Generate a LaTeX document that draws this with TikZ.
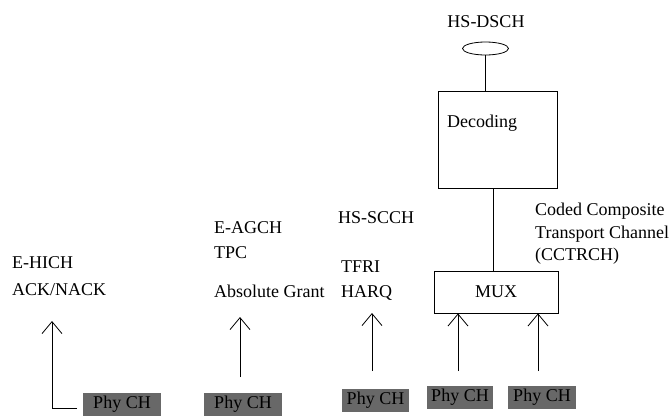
\documentclass[tikz,border=0pt]{standalone}
\usepackage{fontspec}
\newcommand\tmsfont{\fontspec{Liberation Serif}\fontsize{18}{20}\selectfont}
\usetikzlibrary{arrows.meta,shapes.geometric}
\definecolor{phygray}{RGB}{104,104,104}
\tikzset{
  lbl/.style={anchor=base west, inner sep=0pt, font=\tmsfont},
  phy/.style={fill=phygray, inner sep=0pt, minimum height=23, text=black, font=\tmsfont},
  box/.style={draw, line width=0.8pt, inner sep=0pt},
  ln/.style={line width=0.8pt},
  arr/.style={line width=0.8pt, -{Straight Barb[length=12pt,width=20pt,line width=0.8pt]}}
}
\begin{document}
\begin{tikzpicture}[x=1pt,y=-1pt]
\useasboundingbox (0,0) rectangle (669,416);
% top part
\node[lbl, anchor=base] (hsdsch) at (486,27) {HS-DSCH};
\node[draw, ellipse, line width=0.8pt, minimum width=46, minimum height=13, inner sep=0pt] (ell) at (485.5,48.5) {};
\node[box, minimum width=119, minimum height=97] (dec) at (497.5,139.5) {};
\node[lbl] (dectxt) at (447,127) {Decoding};
\node[box, minimum width=124, minimum height=42] (mux) at (496,292) {};
\node[lbl, anchor=base] (muxtxt) at (496,297) {MUX};
\draw[ln] (ell.south) -- (ell.south |- dec.north);
\draw[ln] (493,188) -- (493,271);
% labels
\node[lbl] (cc1) at (535,215) {Coded Composite};
\node[lbl] (cc2) at (535,238) {Transport Channel};
\node[lbl] (cc3) at (535,260) {(CCTRCH)};
\node[lbl] (hich1) at (12,268) {E-HICH};
\node[lbl] (hich2) at (12,295) {ACK/NACK};
\node[lbl] (agch1) at (214,233) {E-AGCH};
\node[lbl] (agch2) at (214,258) {TPC};
\node[lbl] (agch3) at (214,297) {Absolute Grant};
\node[lbl] (scch1) at (338,223) {HS-SCCH};
\node[lbl] (scch2) at (341,272) {TFRI};
\node[lbl] (scch3) at (341,297) {HARQ};
% Phy CH boxes
\node[phy, minimum width=78] (pa) at (122,404.5) {Phy CH};
\node[phy, minimum width=78] (pb) at (243,404.5) {Phy CH};
\node[phy, minimum width=67] (pc) at (375.5,400) {Phy CH};
\node[phy, minimum width=66] (pd) at (460,397.5) {Phy CH};
\node[phy, minimum width=68] (pe) at (542,397.5) {Phy CH};
% arrows
\coordinate (a0) at (77,408);
\coordinate (a1) at (52,321);
\draw[arr] (a0) -| (a1);
\coordinate (b0) at (240,377);
\coordinate (b1) at (240,317);
\draw[arr] (b0) -- (b1);
\coordinate (c0) at (372,371);
\coordinate (c1) at (372,313);
\draw[arr] (c0) -- (c1);
\coordinate (d0) at (458,371);
\draw[arr] (d0) -- (d0 |- mux.south);
\coordinate (e0) at (538,371);
\draw[arr] (e0) -- (e0 |- mux.south);
\end{tikzpicture}
\end{document}
